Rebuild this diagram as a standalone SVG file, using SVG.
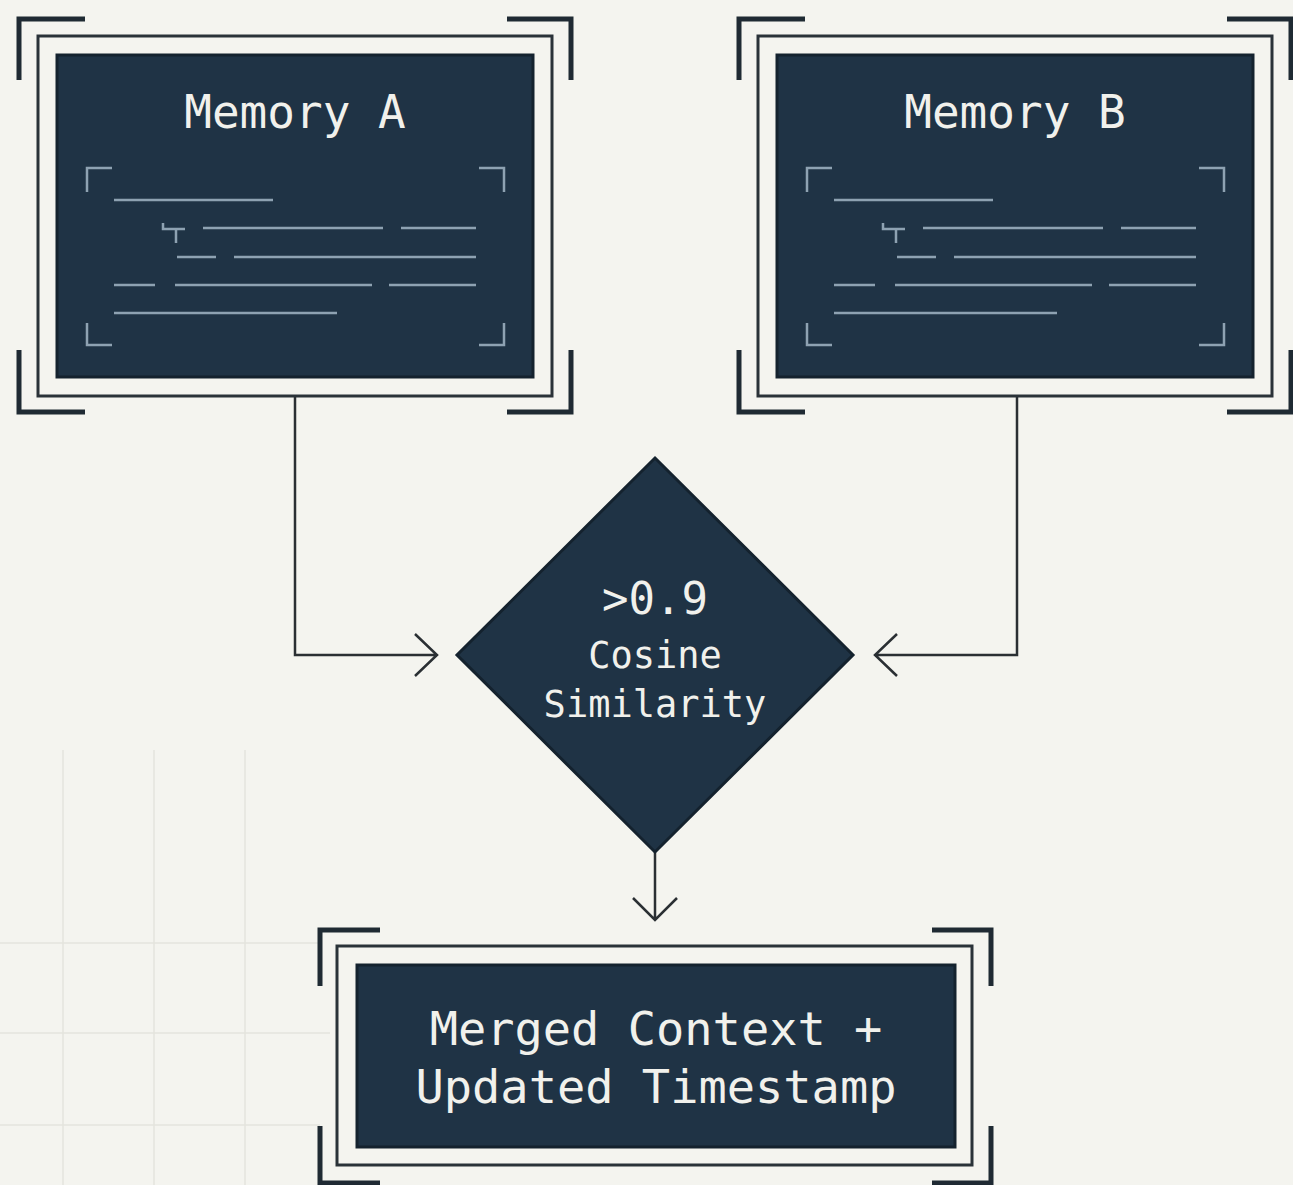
<svg xmlns="http://www.w3.org/2000/svg" width="1293" height="1185" viewBox="0 0 1293 1185">
<style>
.bg{fill:#f4f4ef}
.grid{stroke:#e4e4de;stroke-width:1.5;fill:none}
.brk{fill:none;stroke:#1f2a33;stroke-width:5}
.frame{fill:none;stroke:#2a3238;stroke-width:3}
.box{fill:#1f3345;stroke:#14222e;stroke-width:3}
.deco{fill:none;stroke:#8ea2b2;stroke-width:2.5}
.title{font-family:"DejaVu Sans Mono","Liberation Mono",monospace;fill:#f1f1ec;text-anchor:middle}
.conn{fill:none;stroke:#2a2f33;stroke-width:2.5}
</style>
<defs>
<g id="doc">
<path class="deco" d="M87 192V168H112M479 168H504V192M87 323V345H112M479 345H504V323"/>
<path class="deco" d="M114 200H273M203 228H383M401 228H476M177 257H216M234 257H476M114 285H155M175 285H372M389 285H476M114 313H337"/>
<path class="deco" d="M163 223V229H185M176 229V243" stroke-width="2"/>
</g>
<g id="cardframe">
<path class="brk" d="M19 80V19H85M507 19H571V80M19 350V412H85M507 412H571V350"/>
<rect class="frame" x="38" y="36" width="514" height="360"/>
<rect class="box" x="57" y="55" width="476" height="322"/>
</g>
</defs>
<rect class="bg" width="1293" height="1185"/>
<path class="grid" d="M63 750V1185M154 750V1185M245 750V1185M0 943H320M0 1033H330M0 1125H320"/>
<g id="connectors">
<path class="conn" d="M295 396V655H437M415 634L437 655L415 676"/>
<path class="conn" d="M1017 396V655H875M897 634L875 655L897 676"/>
<path class="conn" d="M655 852V920M633 898L655 920L677 898"/>
</g>
<g id="memoryA">
<use href="#cardframe"/>
<use href="#doc"/>
<text class="title" x="295" y="128" font-size="46">Memory A</text>
</g>
<g id="memoryB">
<use href="#cardframe" x="720"/>
<use href="#doc" x="720"/>
<text class="title" x="1015" y="128" font-size="46">Memory B</text>
</g>
<g id="similarity">
<polygon class="box" points="655,458 853,655 655,852 457,655"/>
<text class="title" x="655" y="614" font-size="44">&gt;0.9</text>
<text class="title" x="655" y="668" font-size="37">Cosine</text>
<text class="title" x="655" y="717" font-size="37">Similarity</text>
</g>
<g id="merged">
<path class="brk" d="M320 986V930H380M932 930H991V986M320 1126V1183H380M932 1183H991V1126"/>
<rect class="frame" x="337" y="946" width="635" height="219"/>
<rect class="box" x="357" y="965" width="598" height="182"/>
<text class="title" x="656" y="1045" font-size="47">Merged Context +</text>
<text class="title" x="656" y="1103" font-size="47">Updated Timestamp</text>
</g>
</svg>
